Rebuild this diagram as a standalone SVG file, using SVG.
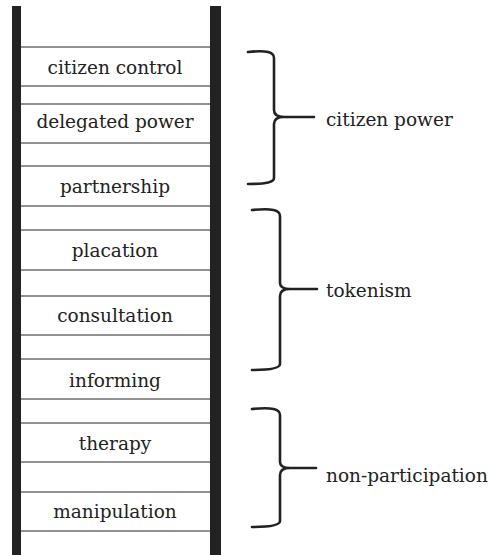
<svg xmlns="http://www.w3.org/2000/svg" width="491" height="555" viewBox="0 0 491 555">
<style>
.rail{fill:#222}
.rung{stroke:#6e6e6e;stroke-width:1.6}
text{font-family:'DejaVu Serif',serif;font-size:18.5px;fill:#222}
.lbl{text-anchor:middle}
.brace{fill:none;stroke:#222;stroke-width:2.6;stroke-linejoin:round;stroke-linecap:round}
</style>
<rect width="491" height="555" fill="#fff"/>
<g id="ladder">
<rect class="rail" x="12" y="6" width="9" height="549"/>
<rect class="rail" x="210" y="6" width="11" height="549"/>
</g>
<g id="rungs">
<line class="rung" x1="21" y1="47" x2="210" y2="47"/>
<line class="rung" x1="21" y1="86" x2="210" y2="86"/>
<line class="rung" x1="21" y1="104" x2="210" y2="104"/>
<line class="rung" x1="21" y1="143" x2="210" y2="143"/>
<line class="rung" x1="21" y1="166" x2="210" y2="166"/>
<line class="rung" x1="21" y1="206" x2="210" y2="206"/>
<line class="rung" x1="21" y1="230" x2="210" y2="230"/>
<line class="rung" x1="21" y1="270" x2="210" y2="270"/>
<line class="rung" x1="21" y1="296" x2="210" y2="296"/>
<line class="rung" x1="21" y1="335" x2="210" y2="335"/>
<line class="rung" x1="21" y1="359" x2="210" y2="359"/>
<line class="rung" x1="21" y1="399" x2="210" y2="399"/>
<line class="rung" x1="21" y1="423" x2="210" y2="423"/>
<line class="rung" x1="21" y1="462" x2="210" y2="462"/>
<line class="rung" x1="21" y1="492" x2="210" y2="492"/>
<line class="rung" x1="21" y1="531" x2="210" y2="531"/>
</g>
<g id="citizen-control"><text class="lbl" x="115" y="74">citizen control</text></g>
<g id="delegated-power"><text class="lbl" x="115" y="128">delegated power</text></g>
<g id="partnership"><text class="lbl" x="115" y="193">partnership</text></g>
<g id="placation"><text class="lbl" x="115" y="257">placation</text></g>
<g id="consultation"><text class="lbl" x="115" y="322">consultation</text></g>
<g id="informing"><text class="lbl" x="115" y="387">informing</text></g>
<g id="therapy"><text class="lbl" x="115" y="450">therapy</text></g>
<g id="manipulation"><text class="lbl" x="115" y="518">manipulation</text></g>
<g id="connectors">
<path class="brace" d="M248,52 C267,50 274,52 274,58 V110 Q274,117 284,117 Q274,117 274,124 V178 C274,182 267,184 248,184 M284,117 H314"/>
<path class="brace" d="M252,210 C272,208 280,210 280,216 V283 Q280,289 290,289 Q280,289 280,296 V364 C280,368 272,370 252,370 M290,289 H317"/>
<path class="brace" d="M252,409 C272,407 280,409 280,415 V462 Q280,468 290,468 Q280,468 280,475 V521 C280,525 272,527 252,527 M290,468 H316"/>
</g>
<g id="citizen-power"><text x="326" y="126">citizen power</text></g>
<g id="tokenism"><text x="326" y="297">tokenism</text></g>
<g id="non-participation"><text x="326" y="482">non-participation</text></g>
</svg>
